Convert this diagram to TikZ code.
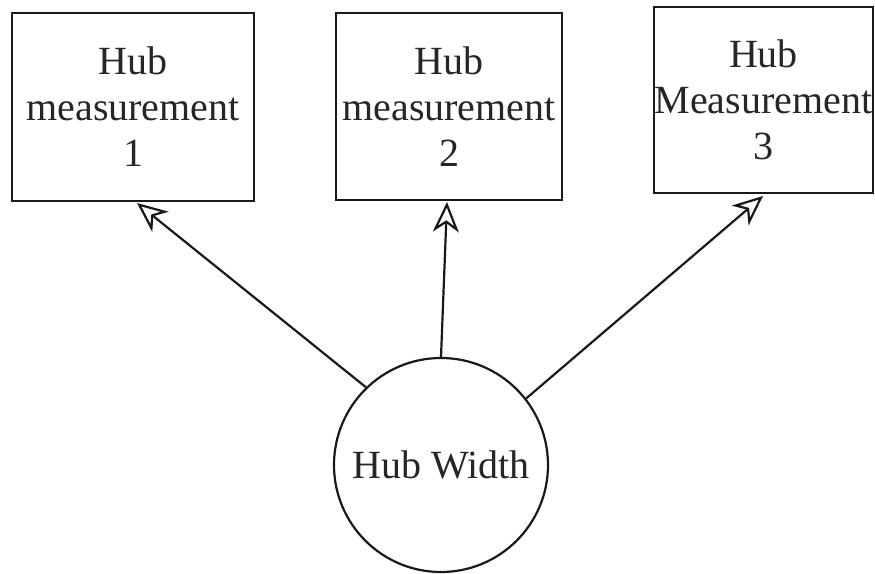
\documentclass[tikz,border=0pt]{standalone}
\usepackage{fontspec}
\setmainfont{Liberation Serif}
\usetikzlibrary{arrows.meta}
\begin{document}
\begin{tikzpicture}[x=1pt,y=-1pt,
  every node/.style={font=\fontsize{40}{46}\selectfont, text=black!85, align=center},
  measbox/.style={draw=black!90, line width=2.2pt, rectangle, inner sep=0pt},
  hubcircle/.style={draw=black!90, line width=2.2pt, circle, inner sep=0pt, minimum size=214pt},
  link/.style={draw=black!90, line width=2.2pt,
    -{Stealth[open, length=30pt, width=26pt, inset=9pt, line width=2.2pt]}}
]
  \useasboundingbox (0,0) rectangle (875,573);

  % measurement boxes
  \node[measbox, minimum width=242pt, minimum height=188pt] (b1) at (133,107)
    {Hub\\measurement\\1};
  \node[measbox, minimum width=226pt, minimum height=187pt] (b2) at (449,106.5)
    {Hub\\measurement\\2};
  \node[measbox, minimum width=219pt, minimum height=186pt] (b3) at (763.5,100)
    {Hub\\Measurement\\3};

  % central quantity
  \node[hubcircle] (hw) at (441,465) {Hub Width};

  % arrow tips just under the boxes
  \coordinate (t1) at (137,203);
  \coordinate (t2) at (447,202);
  \coordinate (t3) at (763,196);

  \draw[link] (hw.134) -- (t1);
  \draw[link] (hw.north) -- (t2);
  \draw[link] (hw.38) -- (t3);
\end{tikzpicture}
\end{document}
